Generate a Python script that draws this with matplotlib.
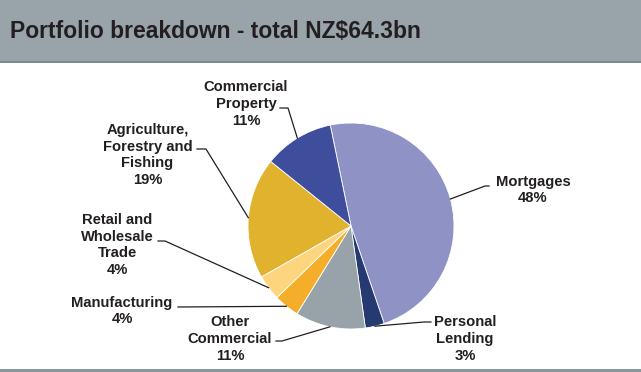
import numpy as np
import matplotlib.pyplot as plt
from matplotlib.patches import Rectangle

# data
sectors = ['Mortgages', 'Personal\nLending', 'Other\nCommercial', 'Manufacturing',
           'Retail and\nWholesale\nTrade', 'Agriculture,\nForestry and\nFishing',
           'Commercial\nProperty']
shares = [48, 3, 11, 4, 4, 19, 11]
colors = ['#8F92C4', '#253A70', '#97A3A8', '#F5AE2A', '#FDD57E', '#E0B22E', '#3F4E9C']
title = 'Portfolio breakdown - total NZ$64.3bn'

W, H = 641, 372
cx, cy, R = 351, 226, 103  # pie centre / radius in pixels (y from top)

fig = plt.figure(figsize=(W / 100, H / 100), dpi=100)

# header band
fig.patches.append(Rectangle((0, 1 - 61 / H), 1, 61 / H, transform=fig.transFigure,
                             facecolor='#98A4AA', edgecolor='none', zorder=0))
fig.patches.append(Rectangle((0, 1 - 63 / H), 1, 2 / H, transform=fig.transFigure,
                             facecolor='#7E898F', edgecolor='none', zorder=0))
fig.patches.append(Rectangle((0, 0), 1, 3 / H, transform=fig.transFigure,
                             facecolor='#8C979D', edgecolor='none', zorder=0))
fig.text(10 / W, 1 - 38 / H, title, ha='left', va='baseline', fontsize=16.5,
         fontweight='bold', color='#231F20',
         family=['Liberation Sans', 'DejaVu Sans'])

ax = fig.add_axes([0, 0, 1, 1])
ax.axis('off')

wedges, _ = ax.pie(shares, colors=colors, startangle=101.6, counterclock=False,
                   radius=1, wedgeprops=dict(edgecolor='white', linewidth=0.6))
ax.set_aspect('auto')
ax.set_xlim(-cx / R, (W - cx) / R)
ax.set_ylim(-(H - cy) / R, cy / R)


def px(x, y):
    return (x - cx) / R, (cy - y) / R


def edge_point(w, r=1.0):
    a = np.deg2rad((w.theta1 + w.theta2) / 2)
    return r * np.cos(a), r * np.sin(a)


# label: text centre (px), leader start (px), elbow (px) or None
label_pos = {
    0: ((533, 190), (489, 186), (485, 186)),
    1: ((465, 339), (431, 322), (424, 322)),
    2: ((230, 339), (276, 341), (282, 341)),
    3: ((122, 311), (178, 307), None),
    4: ((117.5, 245), (158, 241), (165, 241)),
    5: ((147.5, 155), (197, 149), (206, 149)),
    6: ((246, 104), (280, 108), (288, 108)),
}

font = dict(fontsize=10.6, fontweight='bold', color='#231F20',
            family=['Liberation Sans', 'DejaVu Sans'], linespacing=1.24)

for i, w in enumerate(wedges):
    (tx, ty), start, elbow = label_pos[i]
    ax.text(*px(tx, ty), f'{sectors[i]}\n{shares[i]}%', ha='center', va='center', **font)
    pts = [px(*start)]
    if elbow is not None:
        pts.append(px(*elbow))
    pts.append(edge_point(w))
    xs, ys = zip(*pts)
    ax.plot(xs, ys, color='#231F20', linewidth=0.9)

fig.savefig('out.png', dpi=100)
